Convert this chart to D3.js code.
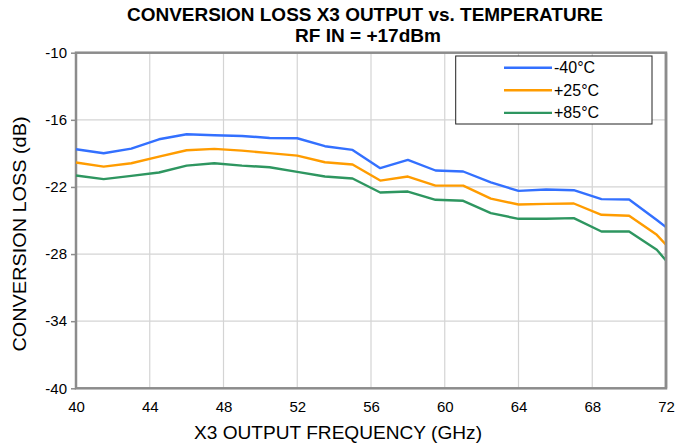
<!DOCTYPE html>
<html><head><meta charset="utf-8">
<script src="https://cdn.jsdelivr.net/npm/d3@7/dist/d3.min.js"></script>
<style>body{margin:0;background:#fff}svg{display:block;font-family:"Liberation Sans",Arial,sans-serif}</style>
</head><body><svg id="c" width="678" height="448"></svg>
<script>
const freqs = [40,41.5,43,44.5,46,47.5,49,50.5,52,53.5,55,56.5,58,59.5,61,62.5,64,65.5,67,68.5,70,71.5,72];
const m40 = [-18.63,-18.99,-18.57,-17.74,-17.29,-17.38,-17.44,-17.62,-17.65,-18.36,-18.69,-20.32,-19.58,-20.53,-20.62,-21.6,-22.35,-22.23,-22.29,-23.09,-23.12,-24.95,-25.59];
const p25 = [-19.82,-20.18,-19.88,-19.29,-18.72,-18.6,-18.75,-18.98,-19.2,-19.79,-20.0,-21.43,-21.07,-21.88,-21.88,-23.04,-23.57,-23.51,-23.48,-24.49,-24.58,-26.28,-27.17];
const p85 = [-20.98,-21.3,-21.01,-20.71,-20.09,-19.88,-20.09,-20.24,-20.65,-21.07,-21.25,-22.5,-22.41,-23.15,-23.24,-24.34,-24.85,-24.85,-24.79,-25.98,-25.98,-27.62,-28.57];
const seriesNames = ["-40°C","+25°C","+85°C"];
const seriesColors = ["#3370ff","#ff9c00","#2e9660"];
const xTicks = [40,44,48,52,56,60,64,68,72];
const yTicks = [-10,-16,-22,-28,-34,-40];

const svg = d3.select("#c");
const L=76, R=666, T=52.7, B=388.3;
const x = d3.scaleLinear().domain([40,72]).range([L,R]);
const y = d3.scaleLinear().domain([-40,-10]).range([B,T]);

// gridlines
svg.append("g").selectAll("line").data(xTicks.slice(1,-1)).join("line")
  .attr("x1",d=>x(d)).attr("x2",d=>x(d)).attr("y1",T).attr("y2",B)
  .attr("stroke","#d4d4d4").attr("stroke-width",1.2);
svg.append("g").selectAll("line").data(yTicks.slice(1,-1)).join("line")
  .attr("x1",L).attr("x2",R).attr("y1",d=>y(d)).attr("y2",d=>y(d))
  .attr("stroke","#d4d4d4").attr("stroke-width",1.2);

// axes
const yAxis = svg.append("g").attr("transform",`translate(${L},0)`)
  .call(d3.axisLeft(y).tickValues(yTicks).tickFormat(d=>String(d)).tickSize(5).tickPadding(4));
yAxis.select(".domain").remove();
yAxis.selectAll("line").attr("stroke","#8c8c8c").attr("stroke-width",1.5);
yAxis.selectAll("text").attr("font-size",15).attr("fill","#000").attr("font-family","Liberation Sans, Arial, sans-serif");

const xAxis = svg.append("g").attr("transform",`translate(0,${B})`)
  .call(d3.axisBottom(x).tickValues(xTicks).tickFormat(d=>String(d)).tickSize(0).tickPadding(13));
xAxis.select(".domain").remove();
xAxis.selectAll("text").attr("font-size",15).attr("fill","#000").attr("font-family","Liberation Sans, Arial, sans-serif");

// frame
svg.append("rect").attr("x",L).attr("y",T).attr("width",R-L).attr("height",B-T)
  .attr("fill","none").attr("stroke","#8c8c8c").attr("stroke-width",2.5);

// lines
const line = d3.line().x((d,i)=>x(freqs[i])).y(d=>y(d));
[m40,p25,p85].forEach((s,k)=>{
  svg.append("path").datum(s).attr("d",line).attr("fill","none")
    .attr("stroke",seriesColors[k]).attr("stroke-width",2.4).attr("stroke-linejoin","round");
});
// redraw right frame edge over lines
svg.append("line").attr("x1",R).attr("x2",R).attr("y1",T).attr("y2",B).attr("stroke","#8c8c8c").attr("stroke-width",2.5);

// legend
const lg = svg.append("g");
lg.append("rect").attr("x",455.7).attr("y",56).attr("width",196.3).attr("height",68)
  .attr("fill","#fff").attr("stroke","#222").attr("stroke-width",1);
seriesNames.forEach((n,k)=>{
  const yy = 67.7 + k*22.6;
  lg.append("line").attr("x1",504).attr("x2",552).attr("y1",yy).attr("y2",yy)
    .attr("stroke",seriesColors[k]).attr("stroke-width",2.4);
  lg.append("text").attr("x",554).attr("y",yy+5.5).attr("font-size",16).text(n);
});

// titles
svg.append("text").attr("x",127).attr("y",20.7).attr("font-size",17.5).attr("font-weight","bold")
  .attr("textLength",476).attr("lengthAdjust","spacingAndGlyphs").text("CONVERSION LOSS X3 OUTPUT vs. TEMPERATURE");
svg.append("text").attr("x",295).attr("y",42.3).attr("font-size",17.5).attr("font-weight","bold")
  .attr("textLength",146).attr("lengthAdjust","spacingAndGlyphs").text("RF IN = +17dBm");
svg.append("text").attr("x",194).attr("y",438.5).attr("font-size",18.5)
  .attr("textLength",288).attr("lengthAdjust","spacingAndGlyphs").text("X3 OUTPUT FREQUENCY (GHz)");
svg.append("text").attr("transform","translate(26,234) rotate(-90)").attr("text-anchor","middle")
  .attr("font-size",18.5).attr("textLength",235).attr("lengthAdjust","spacingAndGlyphs").text("CONVERSION LOSS (dB)");
</script></body></html>
